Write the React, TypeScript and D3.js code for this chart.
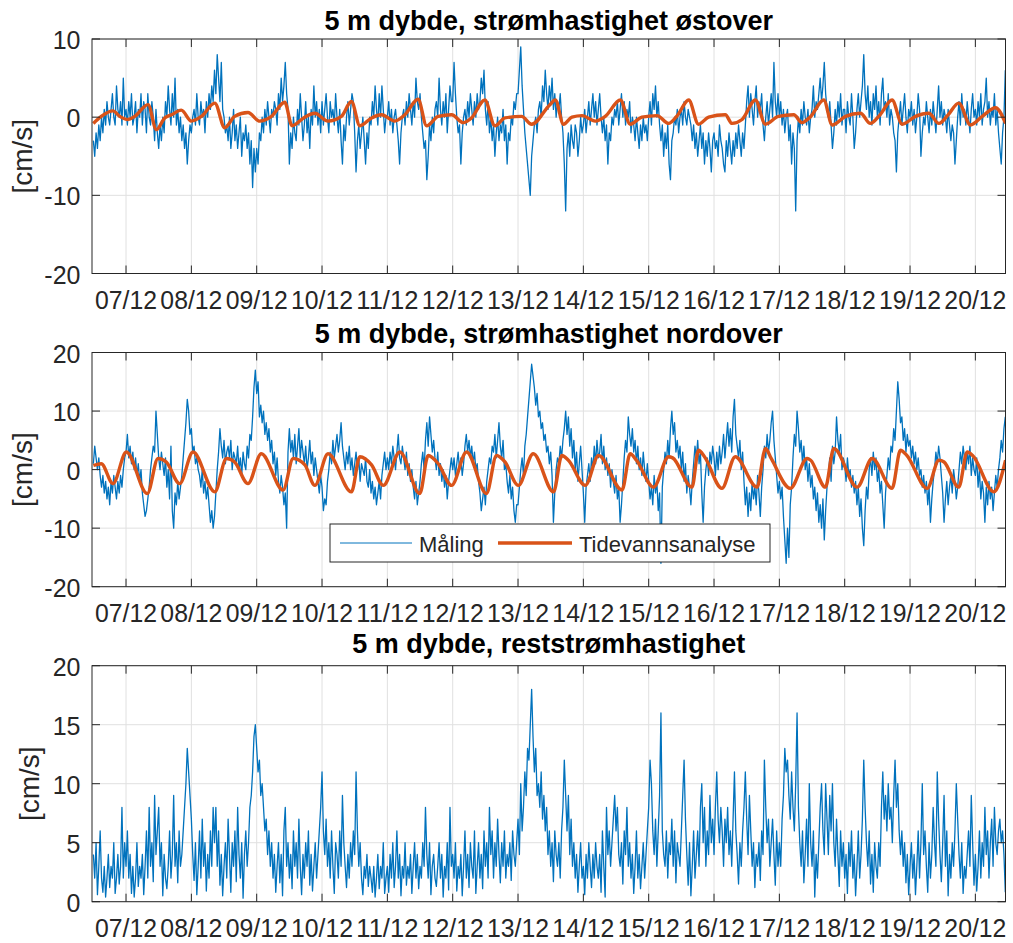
import React from "react";
import * as d3 from "d3";

// ---------- DATA ----------
const YEAR = 2020;
const T0 = Date.UTC(YEAR, 11, 6); // 06/12 00:00
const FIRST_HOUR = 12; // measurements start 06/12 12:00
const STEP_HOURS = 0.5; // 30-minute samples
const xDomainHours = [11.5, 347.07];

const xTickLabels = ["07/12", "08/12", "09/12", "10/12", "11/12", "12/12", "13/12", "14/12", "15/12", "16/12", "17/12", "18/12", "19/12", "20/12"];

const titles = ["5 m dybde, strømhastighet østover", "5 m dybde, strømhastighet nordover", "5 m dybde, reststrømhastighet"];
const yLabel = "[cm/s]";
const legendLabels = ["Måling", "Tidevannsanalyse"];

const yTicksEast = [10, 0, -10, -20];
const yTicksNorth = [20, 10, 0, -10, -20];
const yTicksResidual = [20, 15, 10, 5, 0];

// Eastward velocity, measured (cm/s), one row per day (first row 06/12 12:00-23:30)
const eastMeasured: number[][] = [
  [-3,-5,-2,-4,-1,-3,0,-2,1,-1,2,0,-1,1,3,0,-1,4,1,0,2,-1,5,0],
  [1,-1,2,0,3,-1,0,2,-2,1,0,3,-1,2,1,-2,3,0,-1,2,0,-3,1,-2,-4,-1,-3,0,-2,2,0,4,1,-1,3,0,5,-1,1,-2,0,-3,-1,-4,-2,-6,-3,-1],
  [-2,0,1,-1,3,0,-1,2,0,1,-2,2,0,3,1,4,2,6,3,8,5,2,7,1,0,-2,-1,-3,0,-4,-2,1,-3,-1,-4,-2,0,-5,-2,-3,-1,-4,-2,-6,-3,-9,-4,-7],
  [-4,-6,-2,-3,0,-2,1,-1,2,0,-2,1,0,2,1,-1,3,1,5,2,4,7,3,1,-6,-2,-4,0,-2,-3,1,-1,3,0,-3,-1,2,-2,0,-4,1,-1,4,0,2,-1,1,-2],
  [2,-1,1,3,0,-2,2,0,1,-1,3,0,-2,1,-3,-6,-1,-3,0,2,-1,1,3,2,-2,-7,-3,-1,-4,-2,0,-3,-6,-2,-4,0,-1,2,0,4,1,-1,3,0,4,1,-2,0],
  [0,2,-1,1,-2,0,1,-1,-3,-6,-2,0,1,-1,2,0,3,1,-1,2,0,5,2,1,3,0,-2,-4,-3,-8,-5,-1,-3,0,-2,1,2,0,5,1,-1,2,0,3,-2,1,4,2],
  [2,7,3,0,-2,-1,-6,-2,0,1,-1,2,0,3,1,-1,2,0,3,1,2,5,3,6,1,-1,2,-2,0,-3,-1,-5,-2,0,-3,-1,-2,1,-3,-1,-6,-2,-3,0,-1,2,1,3],
  [3,6,9,4,1,-2,-4,-6,-8,-10,-5,-3,-1,0,-2,1,2,0,4,2,6,3,1,4,2,5,1,3,0,2,1,3,0,-2,-6,-12,-4,-2,-5,-1,-3,-4,-1,-2,-5,-3,0,-2],
  [-1,1,-2,0,2,-1,1,3,0,2,-1,1,3,0,-2,0,-3,-1,-6,-2,-3,0,-1,1,0,2,-1,1,3,0,2,-1,1,0,2,-2,0,-1,-3,0,-2,-4,-1,-3,0,-2,-1,-3],
  [0,2,-1,3,1,4,0,2,-1,-3,-1,-5,-2,-4,-1,-6,-8,-3,-2,0,-1,1,-2,0,1,-1,2,0,-1,1,0,-1,-3,-1,-4,-2,-5,-3,-1,-4,-2,-6,-3,-5,-2,-4,-7,-3],
  [-2,-4,-3,-5,-1,-3,-4,-6,-7,-3,-5,-2,-4,-6,-3,-5,-2,-4,-1,-3,-5,-2,-4,-1,2,4,0,3,1,-1,2,4,0,2,1,3,-1,-3,0,2,-1,1,3,0,7,2,0,3],
  [0,2,-1,1,-2,0,1,-3,-1,-6,-2,-4,-12,-3,0,-2,1,-1,2,0,-1,1,-2,0,1,4,0,2,1,3,5,2,4,7,3,1,0,2,-1,-4,-2,1,-1,2,0,3,-1,1],
  [1,-2,2,0,-1,3,0,-4,-2,1,3,0,2,4,8,3,1,4,0,2,-1,3,1,4,0,2,-1,3,5,1,2,0,3,-1,1,0,-2,-3,-7,-2,0,2,-1,1,3,0,-2,1],
  [0,2,-1,1,-2,0,3,1,-5,-2,0,-1,2,0,-2,1,-1,2,0,-2,1,4,0,2,-1,1,0,-2,1,-1,-3,-1,-2,-6,-3,0,2,-1,3,0,1,-1,2,0,-2,1,3,0],
  [1,-1,2,0,3,-1,1,2,5,0,2,-1,1,0,3,-1,1,-2,-4,-6,-2,0,6],
];

// Northward velocity, measured (cm/s)
const northMeasured: number[][] = [
  [1,4,2,0,2,-1,-3,-1,-4,-2,-5,-3,-6,-2,-4,-1,-3,-5,-2,-4,-1,-3,0,2],
  [3,6,2,4,1,3,0,2,-1,1,-2,0,-4,-6,-8,-7,-5,-3,0,2,4,3,10,6,2,0,3,1,-1,2,-3,0,-5,4,-7,-10,-4,-6,-2,-5,-3,-1,2,5,8,12,10,6],
  [7,3,4,1,2,0,-1,-3,0,-4,-2,-5,-3,-6,-9,-7,-10,-8,-4,0,3,7,4,2,5,1,3,4,2,5,0,3,2,1,4,0,2,-1,3,1,0,4,2,6,5,9,14,17],
  [13,15,9,11,8,10,6,8,5,7,3,5,1,3,-1,2,-2,-4,-1,-3,-6,-4,-10,3,7,3,5,2,6,1,4,7,2,5,3,1,4,0,2,5,1,3,-1,2,0,-2,-4,-1],
  [-3,-7,-5,-6,-2,0,3,1,5,2,4,6,3,5,8,4,2,0,3,1,4,0,2,-1,1,3,0,2,-2,1,0,-1,2,-2,-3,0,-4,-2,-5,-3,-6,-4,-2,-5,-1,1,3,0],
  [2,0,3,1,4,2,0,3,6,2,1,4,2,0,3,-1,1,-2,0,-3,-5,-2,-6,-4,-2,1,3,0,5,8,4,9,6,3,5,2,0,3,-1,1,-2,0,-3,-1,-5,-2,0,2],
  [0,2,-1,1,3,0,2,-1,1,4,6,3,5,2,4,1,3,0,1,-2,-4,-7,-5,-3,-6,-2,0,2,1,4,3,6,2,5,8,4,2,5,0,1,-2,-4,-1,-5,-3,-7,-9,-6],
  [-6,-3,0,2,-1,4,6,9,12,15,18,16,14,11,13,9,10,7,8,5,6,3,4,1,3,-1,-9,-4,0,2,1,4,2,5,7,10,6,9,4,7,2,5,0,3,-2,1,4,0],
  [-4,-9,-3,-1,1,-2,2,0,4,1,5,2,3,6,1,4,0,2,-1,1,-3,0,-2,-4,-1,-5,-3,-9,-6,-2,2,5,3,9,6,4,7,3,5,1,4,0,2,-1,3,0,-2,1],
  [-2,-5,-3,-6,-1,-4,-2,-7,-4,-16,-3,0,3,1,5,2,7,10,6,8,3,5,2,4,0,3,-2,1,-4,-1,-3,-6,-2,1,4,2,5,1,3,-4,-9,-3,0,2,-1,3,1,4],
  [2,-1,3,0,4,1,3,6,2,5,8,4,7,3,9,12,6,4,2,5,0,3,-2,-6,-3,-8,-4,-7,-2,-5,-3,-6,-1,-4,-8,-3,0,4,2,6,3,5,8,10,5,2,-1,-4],
  [-2,-5,-3,-8,-12,-16,-10,-15,-6,-3,2,6,4,10,7,3,5,1,4,0,2,-2,1,-3,-1,-5,-3,-7,-4,-9,-6,-10,-5,-12,-7,-3,-1,2,-2,4,1,3,9,5,3,6,0,2],
  [1,-2,2,-1,0,-3,-1,-4,-2,-6,-3,-8,-5,-10,-13,-7,-3,-5,0,2,-1,3,0,2,-2,0,-4,-2,-6,-10,-4,-1,2,0,4,3,7,5,10,15,12,8,9,5,7,3,6,4],
  [5,2,4,1,3,0,2,-1,0,-3,-1,-4,-2,-6,-3,-9,-5,-2,0,3,1,4,2,-1,-4,-9,-5,-2,-6,-3,-1,-4,0,-2,-5,-3,0,3,1,4,2,0,3,1,4,-1,2,0],
  [-1,2,-3,0,-5,-2,-4,-9,-3,-6,-2,-5,-3,-7,-4,-1,-3,0,2,5,3,7,9],
];

// Residual current speed (cm/s)
const residualMeasured: number[][] = [
  [4,2,5,0.6,3,6,2,0.8,3,0.4,2,4,1.2,3,2,5,0.7,2,4,1.5,3,8,2,5],
  [3,6,2,4,0.7,3,0.4,2,5,1.3,3,2,4,0.6,3,6,2,8,3,5,1.7,9,4,6,8,3,5,0.5,4,2,1.1,3,6,2,4,9,3,5,1.6,6,3,4,6,8,10,13,11,9],
  [7,4,1.8,5,0.6,3,6,2,7,3,5,0.9,4,2,6,3,8,5,8,3,6,1.4,4,0.5,3,5,2,7,4,0.8,5,3,6,1.7,8,4,2,5,0.3,4,6,3,5,8,9,11,14,15],
  [13,11,12,9,10,8,6,7,4,6,3,5,2,4,0.8,3,5,1.6,4,0.5,6,8,3,5,2,4,1.1,6,3,5,2,7,3,0.6,4,2,5,3,6,1.4,4,0.9,3,5,2,4,6,8],
  [11,6,4,7,3,5,2,6,3,0.7,5,4,2,6,3,9,5,3,1.2,4,2,5,3,6,4,11,6,3,5,2,0.6,3,2,4,1.3,3,2,0.8,3,0.4,2,4,1.1,3,2,5,0.7,2],
  [3,0.8,4,2,5,1.2,3,6,2,4,0.5,3,2,5,1.4,3,2,4,0.7,3,5,2,4,1.1,3,2,5,3,8,4,2,5,0.6,3,4,2,1.3,3,5,2,4,0.4,3,2,5,1,8,3],
  [4,2,5,0.9,3,2,4,0.5,3,6,2,4,1.2,5,3,2,6,0.7,3,5,2,4,1.1,6,3,5,2,8,4,6,2,5,3,7,4,1.6,5,3,6,2,4,3,5,1.8,6,4,3,5],
  [7,4,10,6,8,11,9,13,12,15,18,14,11,13,9,10,8,11,7,9,6,8,4,6,3,5,1.7,6,4,3,5,2,6,8,12,9,6,9,4,7,3,5,2,4,0.8,3,5,2],
  [3,0.6,4,2,5,3,1.2,4,2,5,3,2,4,0.8,6,3,0.4,8,4,6,3,5,7,9,6,8,4,3,5,1.5,6,4,8,3,5,2,4,0.7,3,6,2,4,1.1,3,5,2,4,6],
  [8,12,10,6,4,7,3,6,9,16,6,4,3,6,2,5,4,7,3,6,1.6,5,4,3,6,9,12,7,4,1.4,5,0.5,3,6,2,4,6,3,8,10,5,8,3,6,4,9,5,7],
  [4,8,11,7,5,8,6,3,7,5,8,4,6,3,7,11,6,4,1.5,5,3,6,8,11,7,4,9,6,3,5,1.2,4,3,5,1.8,6,4,12,8,5,7,3,5,7,4,1.4,6,3],
  [5,3,7,9,13,11,12,9,7,11,8,6,10,16,8,5,3,6,1.6,4,7,3,10,5,3,6,0.4,4,2,5,8,10,6,4,10,7,4,9,6,10,5,3,7,4,1.3,6,3,5],
  [2,4,0.7,5,3,6,2,4,0.5,3,6,2,4,7,12,8,5,3,6,1.5,4,0.8,5,3,2,5,3,8,11,7,9,6,10,7,8,5,9,12,8,10,6,4,6,3,5,1.6,4,0.6],
  [3,5,2,4,0.6,3,6,2,5,10,4,6,3,0.8,5,2,4,8,5,3,11,7,4,1.7,5,9,3,6,0.5,4,2,5,3,6,10,7,4,2,5,0.7,3,2,4,6,3,9,5,1.4],
  [4,0.9,3,6,2,5,3,8,4,6,2,5,7,3,8,5,4,6,7,5,6,4,0.8],
];

// Tidal analysis: [hours since 06/12 00:00, cm/s] read at extrema / shoulders
const eastTide: [number, number][] = [
  [12,-0.8],[14.9,0.1],[19.2,0.8],[21.7,0.1],[24.7,-0.3],[27.2,0.1],[32.1,1.6],[35.15,-1.6],[38.2,-0.1],[40.7,0.3],
  [44.3,0.9],[48.0,-0.5],[51.7,0.1],[56.6,1.8],[60.25,-1.35],[63.9,0.1],[68.8,0.6],[73.1,-0.5],[77.4,0.1],[82.3,1.9],
  [85.0,-1.1],[89.65,0],[93.3,0.5],[98.2,-0.5],[103.1,0.1],[106.8,2.0],[109.9,-1.1],[114.2,-0.1],[117.8,0.3],[122.75,-0.5],
  [126.4,0.3],[131.3,2.3],[134.4,-1.1],[138.7,0.1],[143.6,0.3],[147.9,-0.7],[150.9,-0.1],[155.8,2.2],[159.5,-1.1],[163.2,-0.1],
  [169.3,0.1],[173.0,-0.9],[179.7,1.6],[181.7,2.2],[184.7,-0.9],[187.8,0],[191.5,0.2],[196.4,-0.5],[200.05,0.1],[205.6,2.2],
  [209.2,-0.9],[213.5,0],[219.05,0.2],[223.3,-0.8],[226.5,0.2],[230.7,2.2],[234.3,-0.9],[238.0,0],[244.15,0.3],[246.6,-0.8],
  [250.3,-0.3],[255.2,2.2],[258.85,-0.9],[263.7,0.1],[269.3,0.3],[272.3,-0.7],[275.5,0.1],[280.3,2.2],[283.4,-1.0],[288.3,0.1],
  [293.8,0.5],[297.4,-0.8],[301.0,0.3],[305.4,2.2],[309.1,-0.9],[314.0,0.1],[318.9,0.5],[322.6,-0.8],[326.0,0.3],[329.9,1.8],
  [334.2,-1.0],[338.5,0.1],[343.4,1.2],[347.1,-0.8],
];

const northTide: [number, number][] = [
  [12,0.7],[14.9,1.0],[19.2,-2.4],[24.1,3.0],[31.8,-4.1],[35.75,1.9],[38.8,1.3],[43.7,-2.4],[48.6,3.0],[56.6,-3.8],
  [60.9,1.9],[63.9,1.3],[68.8,-2.4],[73.7,2.7],[81.7,-3.5],[85.4,1.9],[89.7,0.8],[93.35,-2.7],[98.2,2.7],[106.8,-3.8],
  [109.9,2.2],[114.2,0.8],[118.5,-2.7],[124.6,3.0],[131.9,-4.1],[135.0,2.4],[138.7,1.0],[143.6,-2.7],[149.1,3.0],[156.4,-4.1],
  [160.1,2.4],[163.2,1.3],[168.1,-2.7],[173.6,2.7],[181.05,-3.8],[184.1,2.4],[186.5,1.6],[192.7,-2.7],[197.6,2.4],[206.2,-3.5],
  [209.2,2.7],[211.5,1.6],[217.8,-3.0],[223.3,2.2],[224.8,2.0],[231.9,-3.0],[234.3,3.3],[236.5,2.2],[242.9,-3.2],[247.8,2.2],
  [255.8,-3.0],[258.9,3.6],[261.0,1.9],[268.0,-3.2],[274.2,1.9],[275.5,1.6],[280.9,-3.0],[284.0,3.6],[292.55,-3.0],[298.1,1.9],
  [305.4,-3.2],[308.5,3.3],[310.7,2.5],[318.3,-3.2],[322.6,1.6],[324.5,1.3],[329.9,-3.0],[333.0,3.0],[335.0,2.4],[342.8,-3.8],
  [347.1,1.6],
];

// ---------- LAYOUT / STYLE ----------
const X0 = 92;
const X1 = 1005.5;
const FONT = '"Liberation Sans", Arial, Helvetica, sans-serif';
const BLUE = "#0072BD";
const ORANGE = "#D95319";
const AXIS = "#262626";
const GRID = "#e0e0e0";

const hoursToDate = (h: number) => new Date(T0 + h * 3600000);
const xScale = d3.scaleUtc().domain(xDomainHours.map(hoursToDate)).range([X0, X1]);
const xTickDates = xTickLabels.map((l) => new Date(Date.UTC(YEAR, 11, parseInt(l.slice(0, 2), 10))));

type PanelProps = {
  id: string;
  top: number;
  bottom: number;
  yDomain: [number, number];
  yTicks: number[];
  title: string;
  titleY: number;
  ylabelX: number;
  measured: number[][];
  tide?: [number, number][];
  children?: React.ReactNode;
};

function Panel({ id, top, bottom, yDomain, yTicks, title, titleY, ylabelX, measured, tide, children }: PanelProps) {
  const y = d3.scaleLinear().domain(yDomain).range([bottom, top]);
  const pts: [Date, number][] = measured.flat().map((v, i) => [hoursToDate(FIRST_HOUR + i * STEP_HOURS), v]);
  const line = d3.line<[Date, number]>().x((d) => xScale(d[0])).y((d) => y(d[1]));
  const tideLine = d3
    .line<[number, number]>()
    .x((d) => xScale(hoursToDate(d[0])))
    .y((d) => y(d[1]))
    .curve(d3.curveMonotoneX);
  const tickLen = 8;
  const cy = (top + bottom) / 2;
  return (
    <g>
      <defs>
        <clipPath id={id}>
          <rect x={X0} y={top} width={X1 - X0} height={bottom - top} />
        </clipPath>
      </defs>
      <rect x={X0} y={top} width={X1 - X0} height={bottom - top} fill="#fff" />
      {xTickDates.map((d, i) => (
        <line key={"gx" + i} x1={xScale(d)} x2={xScale(d)} y1={top} y2={bottom} stroke={GRID} strokeWidth={1} />
      ))}
      {yTicks.map((t) => (
        <line key={"gy" + t} x1={X0} x2={X1} y1={y(t)} y2={y(t)} stroke={GRID} strokeWidth={1} />
      ))}
      <g clipPath={`url(#${id})`}>
        <path d={line(pts) || ""} fill="none" stroke={BLUE} strokeWidth={1.3} strokeLinejoin="round" />
        {tide && <path d={tideLine(tide) || ""} fill="none" stroke={ORANGE} strokeWidth={3.4} strokeLinejoin="round" />}
      </g>
      <rect x={X0} y={top} width={X1 - X0} height={bottom - top} fill="none" stroke={AXIS} strokeWidth={1} />
      {xTickDates.map((d, i) => (
        <g key={"tx" + i}>
          <line x1={xScale(d)} x2={xScale(d)} y1={bottom} y2={bottom - tickLen} stroke={AXIS} />
          <line x1={xScale(d)} x2={xScale(d)} y1={top} y2={top + tickLen} stroke={AXIS} />
          <text
            x={xScale(d)}
            y={bottom + 35}
            textAnchor="middle"
            fontSize={25}
            fontFamily={FONT}
            fill={AXIS}
            textLength={62}
            lengthAdjust="spacingAndGlyphs"
          >
            {xTickLabels[i]}
          </text>
        </g>
      ))}
      {yTicks.map((t) => (
        <g key={"ty" + t}>
          <line x1={X0} x2={X0 + tickLen} y1={y(t)} y2={y(t)} stroke={AXIS} />
          <line x1={X1} x2={X1 - tickLen} y1={y(t)} y2={y(t)} stroke={AXIS} />
          <text x={80.5} y={y(t) + 10} textAnchor="end" fontSize={25} fontFamily={FONT} fill={AXIS}>
            {t}
          </text>
        </g>
      ))}
      <text x={(X0 + X1) / 2} y={titleY} textAnchor="middle" fontSize={27} fontWeight="bold" fontFamily={FONT} fill="#000">
        {title}
      </text>
      <text
        transform={`translate(${ylabelX},${cy}) rotate(-90)`}
        textAnchor="middle"
        fontSize={28}
        fontFamily={FONT}
        fill={AXIS}
      >
        {yLabel}
      </text>
      {children}
    </g>
  );
}

function Legend() {
  const bx = 330, by = 524, bw = 440, bh = 38;
  const ly = by + bh / 2;
  return (
    <g>
      <rect x={bx} y={by} width={bw} height={bh} fill="#fff" stroke={AXIS} strokeWidth={1} />
      <line x1={340} x2={412} y1={ly} y2={ly} stroke={BLUE} strokeWidth={1} />
      <text x={419} y={551.5} fontSize={22} fontFamily={FONT} fill={AXIS}>
        {legendLabels[0]}
      </text>
      <line x1={498} x2={572} y1={ly} y2={ly} stroke={ORANGE} strokeWidth={3.4} />
      <text x={579} y={551.5} fontSize={22} fontFamily={FONT} fill={AXIS}>
        {legendLabels[1]}
      </text>
    </g>
  );
}

export default function App() {
  return (
    <svg
      width={1013}
      height={943}
      viewBox="0 0 1013 943"
      style={{ position: "absolute", left: 0, top: 0, background: "#fff" }}
    >
      <rect x={0} y={0} width={1013} height={943} fill="#fff" />
      <Panel
        id="clipEast"
        top={39}
        bottom={273.5}
        yDomain={[-20, 10]}
        yTicks={yTicksEast}
        title={titles[0]}
        titleY={30}
        ylabelX={32}
        measured={eastMeasured}
        tide={eastTide}
      />
      <Panel
        id="clipNorth"
        top={352.5}
        bottom={586.7}
        yDomain={[-20, 20]}
        yTicks={yTicksNorth}
        title={titles[1]}
        titleY={343}
        ylabelX={32}
        measured={northMeasured}
        tide={northTide}
      >
        <Legend />
      </Panel>
      <Panel
        id="clipRes"
        top={665.7}
        bottom={901.7}
        yDomain={[0, 20]}
        yTicks={yTicksResidual}
        title={titles[2]}
        titleY={653}
        ylabelX={38.5}
        measured={residualMeasured}
      />
    </svg>
  );
}
